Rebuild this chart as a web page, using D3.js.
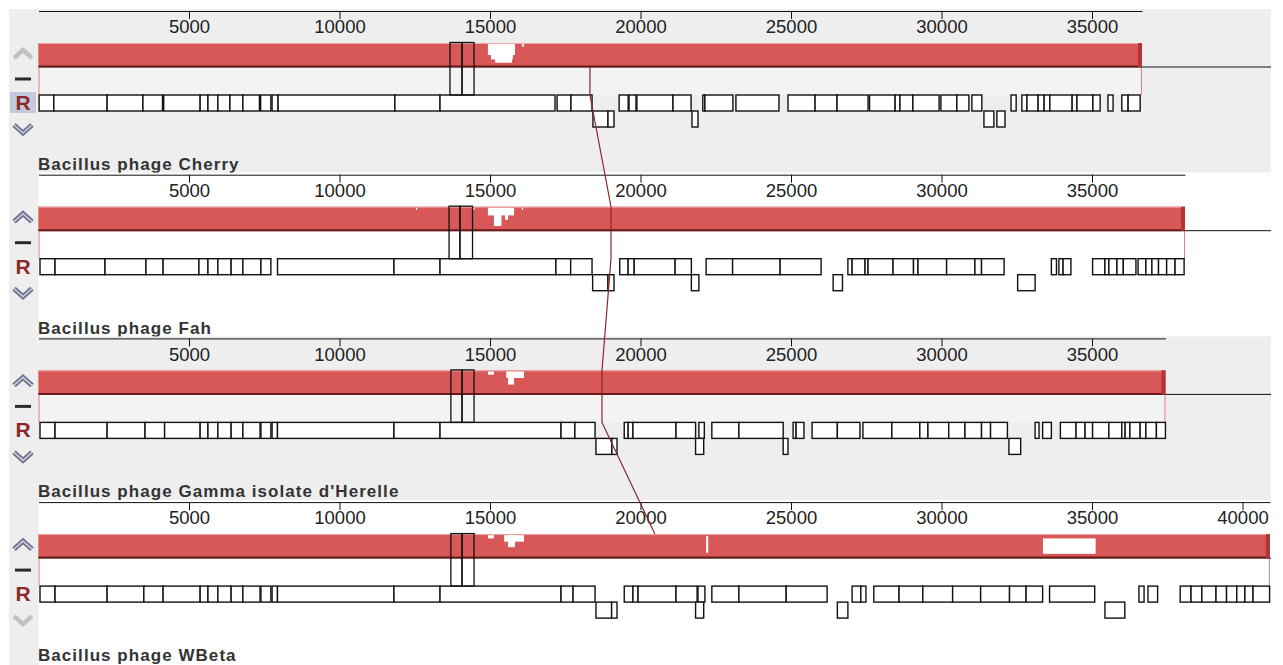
<!DOCTYPE html>
<html>
<head>
<meta charset="utf-8">
<script src="https://cdn.jsdelivr.net/npm/d3@7"></script>
<style>
  body { margin: 0; background: #fff; }
  svg { display: block; }
  .ruler text { font-family: "Liberation Sans", Arial, sans-serif; font-size: 18.5px; fill: #222; }
  .label { font-family: "Liberation Sans", Arial, sans-serif; font-weight: bold; font-size: 17px; fill: #333; letter-spacing: 1.05px; }
</style>
</head>
<body>
<svg id="chart" width="1283" height="665"></svg>
<script>
// genome names and lengths (kb)
const genomeNames = ["Bacillus phage Cherry", "Bacillus phage Fah", "Bacillus phage Gamma isolate d'Herelle", "Bacillus phage WBeta"];
const genomeLengths = [36.66, 38.09, 37.44, 40.91];

// genes, [start, end] in kb
const cherryFwd = [[0.02,0.51],[0.51,2.28],[2.28,3.47],[3.47,4.12],[4.16,5.37],[5.37,5.63],[5.63,5.96],[5.96,6.36],[6.36,6.79],[6.79,7.34],[7.38,7.72],[7.76,7.96],[7.96,11.84],[11.84,13.34],[13.34,17.16],[17.23,17.69],[17.69,18.39],[19.29,19.59],[19.62,19.85],[19.88,21.08],[21.08,21.68],[22.07,22.14],[22.14,23.07],[23.17,24.60],[24.90,25.80],[25.80,26.53],[26.53,27.56],[27.61,28.46],[28.46,28.62],[28.62,29.05],[29.05,29.92],[29.98,30.51],[30.51,30.91],[31.01,31.34],[32.31,32.48],[32.67,32.84],[32.84,33.21],[33.21,33.41],[33.41,33.60],[33.60,34.34],[34.34,34.50],[34.50,35.03],[35.03,35.27],[35.53,35.70],[35.99,36.20],[36.20,36.60]];
const cherryRev = [[18.42,18.92],[18.92,19.12],[21.71,21.91],[31.41,31.74],[31.84,32.11]];

const fahFwd = [[0.05,0.55],[0.55,2.21],[2.21,3.57],[3.57,4.14],[4.14,5.33],[5.33,5.63],[5.63,5.96],[5.96,6.40],[6.40,6.79],[6.79,7.39],[7.39,7.72],[7.94,11.81],[11.81,13.34],[13.34,17.19],[17.19,17.68],[17.68,18.39],[19.31,19.59],[19.59,19.79],[19.79,21.15],[21.15,21.69],[22.18,23.06],[23.06,24.64],[24.64,26.00],[26.89,27.03],[27.03,27.46],[27.46,27.56],[27.56,28.39],[28.39,29.07],[29.07,29.22],[29.22,30.17],[30.17,31.11],[31.11,31.33],[31.33,32.08],[33.65,33.82],[33.90,34.04],[34.04,34.30],[35.02,35.43],[35.43,35.56],[35.56,35.83],[35.83,36.04],[36.04,36.46],[36.53,36.79],[36.79,36.99],[36.99,37.21],[37.21,37.48],[37.48,37.76],[37.76,38.06]];
const fahRev = [[18.41,18.92],[18.92,19.12],[21.69,21.94],[26.40,26.71],[32.53,33.11]];

const gammaFwd = [[0.05,0.55],[0.55,2.28],[2.28,3.54],[3.54,4.19],[4.19,5.37],[5.37,5.63],[5.63,5.96],[5.96,6.40],[6.40,6.79],[6.79,7.36],[7.39,7.72],[7.76,7.94],[7.94,11.81],[11.81,13.34],[13.34,17.36],[17.36,17.82],[17.82,18.49],[19.46,19.59],[19.59,19.75],[19.75,21.18],[21.18,21.83],[21.94,22.12],[22.37,23.27],[23.27,24.74],[25.07,25.17],[25.17,25.43],[25.70,26.54],[26.54,27.29],[27.39,28.35],[28.35,29.28],[29.28,29.55],[29.55,30.24],[30.24,30.78],[30.78,31.33],[31.33,31.63],[31.63,32.19],[33.11,33.24],[33.36,33.65],[33.95,34.47],[34.47,34.77],[34.77,35.02],[35.02,35.56],[35.56,35.99],[35.99,36.10],[36.10,36.26],[36.26,36.60],[36.60,36.79],[36.79,37.14],[37.14,37.44]];
const gammaRev = [[18.52,19.05],[19.05,19.22],[21.83,22.10],[24.74,24.90],[32.24,32.63]];

const wbetaFwd = [[0.05,0.55],[0.55,2.28],[2.28,3.50],[3.50,4.14],[4.14,5.37],[5.37,5.63],[5.63,5.96],[5.96,6.40],[6.40,6.79],[6.79,7.36],[7.39,7.72],[7.76,7.94],[7.94,11.81],[11.81,13.34],[13.34,17.36],[17.36,17.76],[17.76,18.49],[19.46,19.75],[19.75,19.92],[19.92,21.18],[21.18,21.88],[21.91,22.14],[22.37,23.27],[23.27,24.84],[24.84,26.20],[27.03,27.32],[27.32,27.49],[27.75,28.59],[28.59,29.38],[29.38,30.37],[30.37,31.30],[31.30,32.26],[32.26,32.81],[32.81,33.36],[33.59,35.09],[36.56,36.73],[36.86,37.18],[37.93,38.29],[38.29,38.65],[38.65,39.12],[39.12,39.47],[39.47,39.81],[39.81,40.08],[40.08,40.35],[40.35,40.90]];
const wbetaRev = [[18.52,19.04],[19.04,19.22],[21.83,22.10],[26.54,26.89],[35.43,36.09]];

// tall features crossing the block
const featureBoxes = [
  [[13.67,14.07],[14.07,14.47]],
  [[13.64,14.00],[14.00,14.42]],
  [[13.70,14.07],[14.07,14.47]],
  [[13.70,14.07],[14.07,14.47]]
];

// low similarity (white) parts of the block: [start, end, top fraction, bottom fraction]
const lowSimilarity = [
  [[14.93,15.83,0,0.5],[15.03,15.76,0,0.7],[15.17,15.73,0,0.85],[16.06,16.13,0,0.12]],
  [[14.93,15.80,0,0.35],[15.13,15.38,0,0.83],[15.50,15.60,0,0.55],[12.54,12.58,0,0.1],[14.44,14.48,0,0.1],[16.06,16.10,0,0.1]],
  [[14.93,15.13,0,0.15],[15.54,16.13,0,0.3],[15.60,15.80,0,0.6]],
  [[14.93,15.13,0,0.15],[15.47,16.13,0,0.3],[15.60,15.83,0,0.55],[22.18,22.25,0.05,0.8],[33.37,35.12,0.15,0.85]]
];

// homologous position tracked across genomes (kb)
const homologPos = [18.32, 19.02, 18.72, 20.48];

const fwdGenes = [cherryFwd, fahFwd, gammaFwd, wbetaFwd];
const revGenes = [cherryRev, fahRev, gammaRev, wbetaRev];

const W = 1283, H = 665;
const gray = "#eeeeee";
const x = d3.scaleLinear().domain([0, 40]).range([38.5, 1242.5]);
const rowY = d3.scaleLinear().domain([0, 1]).range([11, 174.7]);

const svg = d3.select("#chart");
svg.append("rect").attr("width", W).attr("height", H).attr("fill", "#fff");
svg.append("defs").append("clipPath").attr("id", "clip")
  .append("rect").attr("x", 9).attr("y", 0).attr("width", 1262).attr("height", H);

function chevron(g, cy, up, enabled) {
  const d = up ? `M14,${cy+4}L23,${cy-4}L32,${cy+4}` : `M14,${cy-4}L23,${cy+4}L32,${cy-4}`;
  if (enabled) {
    g.append("path").attr("d", d).attr("fill", "none").attr("stroke", "#6e6f8c").attr("stroke-width", 5);
    g.append("path").attr("d", d).attr("fill", "none").attr("stroke", "#c9cadb").attr("stroke-width", 1.6);
  } else {
    g.append("path").attr("d", d).attr("fill", "none").attr("stroke", "#c2c2c2").attr("stroke-width", 4.5);
  }
}

genomeNames.forEach((name, i) => {
  const r = rowY(i);
  const top = r - 2;
  const bottom = i < 3 ? rowY(i + 1) - 2 : H;
  const len = genomeLengths[i];

  // backgrounds
  svg.append("rect").attr("x", 9).attr("y", top).attr("width", 1262).attr("height", bottom - top)
    .attr("fill", i % 2 === 0 ? gray : "#fff");
  svg.append("rect").attr("x", 9).attr("y", top).attr("width", 29.5).attr("height", bottom - top).attr("fill", gray);

  const p = svg.append("g").attr("clip-path", "url(#clip)");

  // center line
  p.append("line").attr("x1", x(0)).attr("x2", 1271).attr("y1", r + 56).attr("y2", r + 56)
    .attr("stroke", "#111").attr("stroke-width", 1);

  // LCB frame: light fill below the block, pink side edges
  p.append("rect").attr("x", x(0)).attr("y", r + 32).attr("width", x(len) - x(0)).attr("height", 52)
    .attr("fill", "rgba(255,255,255,0.3)");
  [x(0) + 0.5, x(len) - 0.5].forEach(ex => {
    p.append("line").attr("x1", ex).attr("x2", ex).attr("y1", r + 32).attr("y2", r + 84)
      .attr("stroke", "#e87c7c").attr("stroke-width", 1);
  });

  // block
  p.append("rect").attr("x", x(0)).attr("y", r + 32).attr("width", x(len) - x(0)).attr("height", 24)
    .attr("fill", "#d85858");
  p.selectAll(null).data(lowSimilarity[i]).enter().append("rect")
    .attr("x", d => x(d[0])).attr("width", d => x(d[1]) - x(d[0]))
    .attr("y", d => r + 33 + d[2] * 22).attr("height", d => (d[3] - d[2]) * 22)
    .attr("fill", "#fff");
  p.append("line").attr("x1", x(0)).attr("x2", x(len)).attr("y1", r + 32.5).attr("y2", r + 32.5)
    .attr("stroke", "#f0a4a4");
  p.append("line").attr("x1", x(0)).attr("x2", x(len)).attr("y1", r + 55.5).attr("y2", r + 55.5)
    .attr("stroke", "#6a1a1a").attr("stroke-width", 2);
  p.append("rect").attr("x", x(len) - 4).attr("y", r + 32).attr("width", 4).attr("height", 24)
    .attr("fill", "#b23434");

  // ruler
  const xs = d3.scaleLinear().domain([0, len]).range([x(0), x(len)]);
  p.append("g").attr("class", "ruler").attr("transform", `translate(0,${r})`)
    .call(d3.axisBottom(xs).tickValues(d3.range(5, len, 5)).tickFormat(d => d * 1000)
      .tickSize(8).tickSizeOuter(0).tickPadding(1))
    .call(g => g.selectAll("line,path").attr("stroke", "#111"));

  // genes
  const geneG = p.append("g").attr("fill", "#fff").attr("stroke", "#111").attr("stroke-width", 1.4);
  geneG.selectAll(null).data(fwdGenes[i]).enter().append("rect")
    .attr("x", d => x(d[0])).attr("width", d => x(d[1]) - x(d[0]))
    .attr("y", r + 84).attr("height", 16);
  geneG.selectAll(null).data(revGenes[i]).enter().append("rect")
    .attr("x", d => x(d[0])).attr("width", d => x(d[1]) - x(d[0]))
    .attr("y", r + 100).attr("height", 16);

  // tall feature boxes
  p.selectAll(null).data(featureBoxes[i]).enter().append("rect")
    .attr("x", d => x(d[0])).attr("width", d => x(d[1]) - x(d[0]))
    .attr("y", r + 31.5).attr("height", 52.5)
    .attr("fill", "none").attr("stroke", "#111").attr("stroke-width", 1.3);

  // label
  svg.append("text").attr("class", "label").attr("x", 38).attr("y", r + 159).text(name);

  // controls
  const c = svg.append("g");
  chevron(c, r + 43, true, i > 0);
  c.append("line").attr("x1", 15).attr("x2", 31).attr("y1", r + 68).attr("y2", r + 68)
    .attr("stroke", "#2a2a2a").attr("stroke-width", 3);
  if (i === 0) {
    c.append("rect").attr("x", 10).attr("y", r + 81).attr("width", 26).attr("height", 21).attr("fill", "#c5c9dc");
  }
  c.append("text").attr("x", 23).attr("y", r + 99).attr("text-anchor", "middle")
    .attr("font-family", "Liberation Sans, Arial, sans-serif").attr("font-weight", "bold")
    .attr("font-size", 21).attr("fill", "#8c2a2a").text("R");
  chevron(c, r + 118, false, i < 3);
});

// homology tracking line
const pts = [];
homologPos.forEach((pos, i) => {
  const r = rowY(i);
  if (i > 0) pts.push([x(pos), r + 32]);
  if (i < homologPos.length - 1) {
    pts.push([x(pos), r + 56]);
    pts.push([x(pos), r + 84]);
  }
});
svg.append("path").attr("d", d3.line()(pts)).attr("fill", "none")
  .attr("stroke", "#8b2626").attr("stroke-width", 1.2);
</script>
</body>
</html>
